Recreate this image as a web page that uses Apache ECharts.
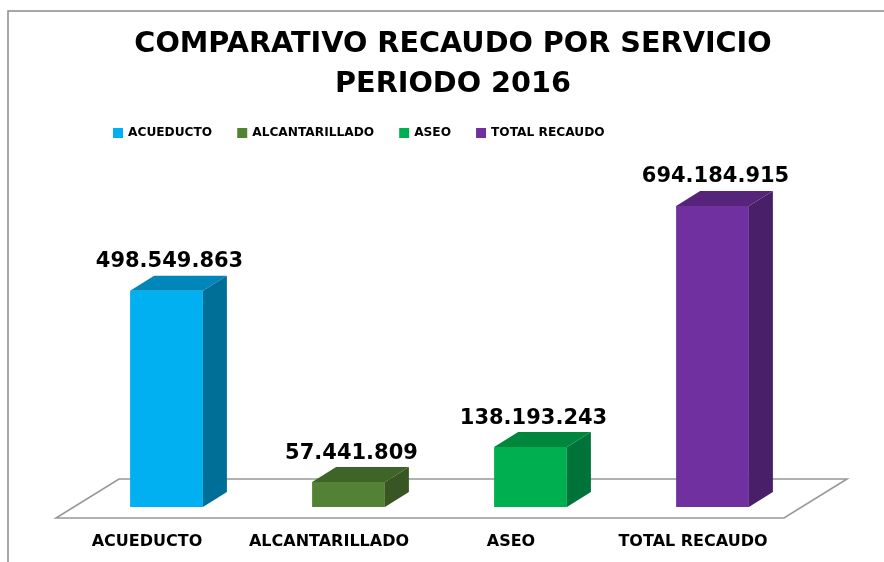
<!DOCTYPE html>
<html>
<head>
<meta charset="utf-8">
<script src="https://cdn.jsdelivr.net/npm/echarts@6/dist/echarts.min.js"></script>
<style>
  html, body { margin: 0; padding: 0; background: #fff; }
  #chart { width: 884px; height: 562px; }
</style>
</head>
<body>
<div id="chart"></div>
<script>
// datos del grafico
var categorias = ['ACUEDUCTO', 'ALCANTARILLADO', 'ASEO', 'TOTAL RECAUDO'];
var recaudo = [498549863, 57441809, 138193243, 694184915];
// colores: frente, tapa, lateral
var coloresFrente = ['#00B0F0', '#548235', '#00B050', '#7030A0'];
var coloresTapa = ['#0086B8', '#3F6428', '#00873D', '#56257B'];
var coloresLado = ['#006F98', '#375623', '#00733A', '#481F68'];

function formato(v) {
  return String(v).replace(/\B(?=(\d{3})+(?!\d))/g, '.');
}

var myChart = echarts.init(document.getElementById('chart'));

// piso 3D (paralelogramo)
function renderPiso(params, api) {
  var c0 = api.coord([0, 0]);
  var w = api.size([1, 0])[0];
  var left = c0[0] - w / 2;
  var right = left + w * categorias.length;
  var y = c0[1];
  var dx = 63, dy = -39;
  return {
    type: 'polygon',
    shape: { points: [[left, y], [right, y], [right + dx, y + dy], [left + dx, y + dy]] },
    style: { fill: '#fff', stroke: '#989898', lineWidth: 1.6 },
    silent: true
  };
}

// barra 3D
function renderBarra(params, api) {
  var idx = api.value(0);
  var val = api.value(1);
  var base = api.coord([idx, 0]);
  var top = api.coord([idx, val]);
  var w = api.size([1, 0])[0];
  var barW = w * 0.4;
  var ox = 19.5, oy = -11;   // desplazamiento dentro del piso
  var dx = 24, dy = -15;     // profundidad de la barra
  var cx = base[0] + ox;
  var x0 = cx - barW / 2, x1 = cx + barW / 2;
  var yb = base[1] + oy, yt = top[1] + oy;
  var i = params.seriesIndex - 1;
  return {
    type: 'group',
    children: [
      {
        type: 'rect',
        shape: { x: x0, y: yt, width: barW, height: yb - yt },
        style: { fill: coloresFrente[i] }
      },
      {
        type: 'polygon',
        shape: { points: [[x0, yt], [x1, yt], [x1 + dx, yt + dy], [x0 + dx, yt + dy]] },
        style: { fill: coloresTapa[i] }
      },
      {
        type: 'polygon',
        shape: { points: [[x1, yt], [x1 + dx, yt + dy], [x1 + dx, yb + dy], [x1, yb]] },
        style: { fill: coloresLado[i] }
      },
      {
        type: 'text',
        style: {
          text: formato(val),
          x: cx + 3,
          y: yt + dy - 14,
          align: 'center',
          verticalAlign: 'middle',
          font: 'bold 21px "DejaVu Sans"',
          fill: '#000'
        }
      }
    ]
  };
}

var series = [{
  type: 'custom',
  renderItem: renderPiso,
  data: [[0, 0]],
  z: 1,
  silent: true
}];
categorias.forEach(function (nombre, i) {
  series.push({
    type: 'custom',
    name: nombre,
    renderItem: renderBarra,
    itemStyle: { color: coloresFrente[i] },
    data: [[i, recaudo[i]]],
    z: 2
  });
});

var tituloFont = 'bold 28.7px "DejaVu Sans"';

var option = {
  animation: false,
  legend: {
    data: categorias,
    left: 108,
    top: 122,
    icon: 'rect',
    itemWidth: 10,
    itemHeight: 10,
    itemGap: 25,
    textStyle: {
      fontFamily: 'DejaVu Sans',
      fontWeight: 'bold',
      fontSize: 12.2,
      color: '#000'
    }
  },
  graphic: [
    {
      type: 'rect',
      shape: { x: 8, y: 11, width: 1000, height: 1000 },
      style: { fill: 'none', stroke: '#8a8a8a', lineWidth: 1.5 },
      silent: true
    },
    {
      type: 'text',
      x: 453, y: 45,
      style: { text: 'COMPARATIVO RECAUDO POR SERVICIO', font: tituloFont, fill: '#000', align: 'center', verticalAlign: 'middle' }
    },
    {
      type: 'text',
      x: 453, y: 85,
      style: { text: 'PERIODO 2016', font: tituloFont, fill: '#000', align: 'center', verticalAlign: 'middle' }
    }
  ],
  grid: {
    left: 56,
    right: 100,
    top: 171,
    bottom: 44
  },
  xAxis: {
    type: 'category',
    data: categorias,
    axisLine: { show: false },
    axisTick: { show: false },
    splitLine: { show: false },
    axisLabel: {
      interval: 0,
      margin: 16,
      fontFamily: 'DejaVu Sans',
      fontWeight: 'bold',
      fontSize: 16,
      color: '#000'
    }
  },
  yAxis: {
    type: 'value',
    min: 0,
    max: 800000000,
    show: false
  },
  series: series
};

myChart.setOption(option);
</script>
</body>
</html>
